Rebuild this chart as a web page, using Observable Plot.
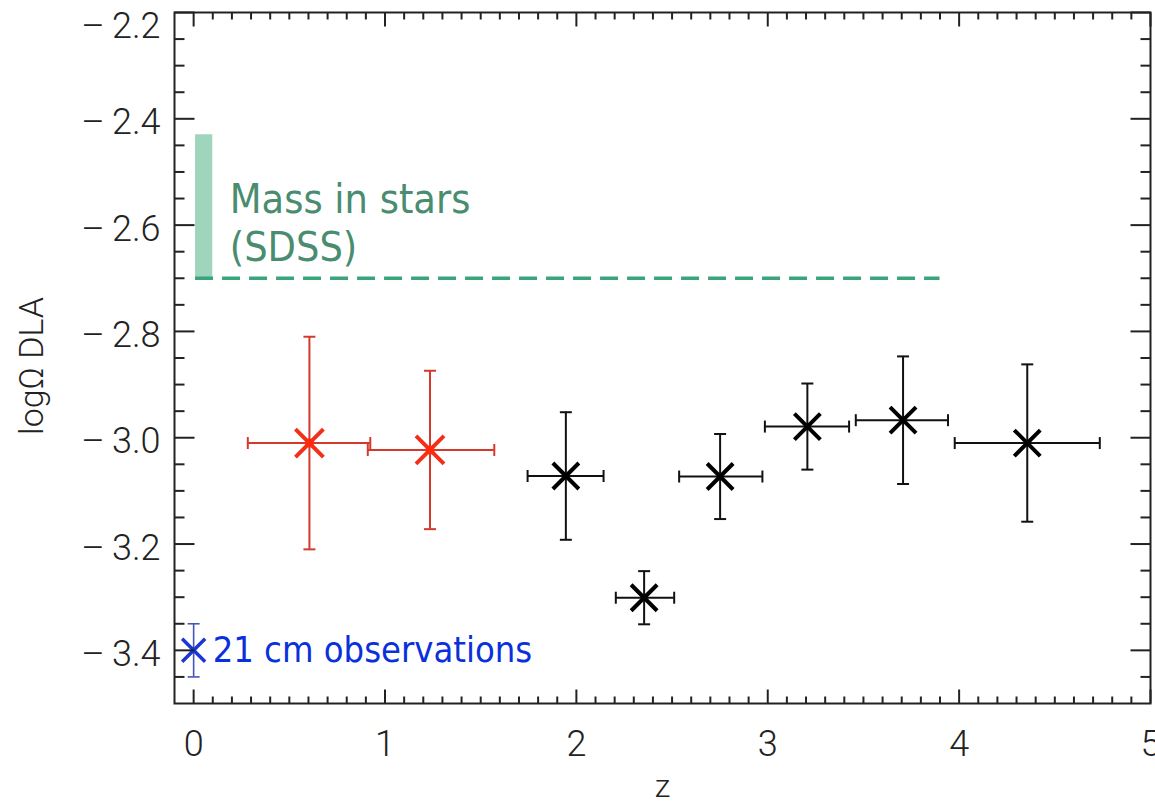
<!DOCTYPE html>
<html><head><meta charset="utf-8">
<script src="https://cdn.jsdelivr.net/npm/d3@7"></script>
<script src="https://cdn.jsdelivr.net/npm/@observablehq/plot@0.6"></script>
<style>body{margin:0;background:#fff}</style>
</head><body><div id="chart"></div>
<script>
// ---- data ----
const redZ = [0.605, 1.235];
const redZLow = [0.283, 0.910];
const redZHigh = [0.923, 1.571];
const redOmega = [-3.010, -3.023];
const redOmegaErr = [0.200, 0.149];

const blackZ = [1.945, 2.354, 2.751, 3.207, 3.707, 4.356];
const blackZLow = [1.745, 2.206, 2.537, 2.985, 3.460, 3.977];
const blackZHigh = [2.142, 2.511, 2.972, 3.425, 3.942, 4.735];
const blackOmega = [-3.072, -3.301, -3.073, -2.979, -2.967, -3.010];
const blackOmegaErr = [0.120, 0.050, 0.080, 0.081, 0.120, 0.148];

const blueZ = [0];
const blueOmega = [-3.40];
const blueOmegaErr = [0.05];
const blueLabel = "21 cm observations";

const starsZ = [0.01, 0.10];
const starsOmegaLow = -2.70, starsOmegaHigh = -2.43;
const starsLineZEnd = 3.90;
const starsLabel = ["Mass in stars", "(SDSS)"];

const xMajorTicks = [0, 1, 2, 3, 4, 5];
const yMajorTicks = [-2.2, -2.4, -2.6, -2.8, -3.0, -3.2, -3.4];
const xLabel = "z";
const yLabel = "logΩ DLA";

// ---- build tables ----
const red = redZ.map((z, i) => ({z, zLow: redZLow[i], zHigh: redZHigh[i], omega: redOmega[i], lo: redOmega[i] - redOmegaErr[i], hi: redOmega[i] + redOmegaErr[i]}));
const black = blackZ.map((z, i) => ({z, zLow: blackZLow[i], zHigh: blackZHigh[i], omega: blackOmega[i], lo: blackOmega[i] - blackOmegaErr[i], hi: blackOmega[i] + blackOmegaErr[i]}));
const blue = blueZ.map((z, i) => ({z, omega: blueOmega[i], lo: blueOmega[i] - blueOmegaErr[i], hi: blueOmega[i] + blueOmegaErr[i]}));
const stars = [{z1: starsZ[0], z2: starsZ[1], lo: starsOmegaLow, hi: starsOmegaHigh, zEnd: starsLineZEnd, label: starsLabel.join("\n")}];

const xMinor = d3.range(1, 50).filter(i => i % 10 !== 0).map(i => i / 10);
const yMinor = d3.range(45, 70).filter(i => i % 4 !== 0).map(i => -i / 20);
const yFmt = d => "\u2013\u2009" + Math.abs(d).toFixed(1);

// ---- symbols ----
const seg = (x1, y1, x2, y2) => ({draw(c) { c.moveTo(x1, y1); c.lineTo(x2, y2); }});
const cross = h => ({draw(c) { c.moveTo(-h, -h); c.lineTo(h, h); c.moveTo(-h, h); c.lineTo(h, -h); }});
const hcap = seg(-6, 0, 6, 0), vcap = seg(0, -6, 0, 6);

const axisCol = "#222";
function tickDots(values, channel, anchor, sym, sw) {
  return Plot.dot(values, {[channel]: d => d, frameAnchor: anchor, symbol: sym, stroke: axisCol, strokeWidth: sw, fill: "none"});
}

function errorMarks(data, col, sw, withX) {
  const m = [
    Plot.ruleX(data, {x: "z", y1: "lo", y2: "hi", stroke: col, strokeWidth: sw}),
    Plot.dot(data, {x: "z", y: "lo", symbol: hcap, stroke: col, strokeWidth: sw, fill: "none"}),
    Plot.dot(data, {x: "z", y: "hi", symbol: hcap, stroke: col, strokeWidth: sw, fill: "none"})
  ];
  if (withX) m.push(
    Plot.ruleY(data, {y: "omega", x1: "zLow", x2: "zHigh", stroke: col, strokeWidth: sw}),
    Plot.dot(data, {x: "zLow", y: "omega", symbol: vcap, stroke: col, strokeWidth: sw, fill: "none"}),
    Plot.dot(data, {x: "zHigh", y: "omega", symbol: vcap, stroke: col, strokeWidth: sw, fill: "none"})
  );
  return m;
}

const chart = Plot.plot({
  width: 1155, height: 805,
  marginTop: 12, marginRight: 5, marginBottom: 102, marginLeft: 174,
  style: {fontFamily: "Roboto, 'Liberation Sans', sans-serif", fontSize: "36px", fontWeight: 300, color: "#222", background: "#fff", overflow: "visible"},
  x: {domain: [-0.1, 5], ticks: xMajorTicks, tickSize: 0, tickPadding: 27, tickFormat: d => String(d), label: null},
  y: {domain: [-3.5, -2.2], axis: null},
  marks: [
    // stars band and dashed level
    Plot.rect(stars, {x1: "z1", x2: "z2", y1: "lo", y2: "hi", fill: "#9fd5bc"}),
    Plot.ruleY(stars, {y: "lo", x1: "z1", x2: "zEnd", stroke: "#3aa57a", strokeWidth: 3.5, strokeDasharray: "18,9"}),
    Plot.text(stars, {x: "z2", y: "lo", text: "label", textAnchor: "start", lineAnchor: "bottom", dx: 17, dy: -17, lineHeight: 1.17, fontSize: 41, fontWeight: 400, fill: "#4a8c70", fontFamily: "'DejaVu Sans Condensed', 'DejaVu Sans', sans-serif"}),
    // error bars
    ...errorMarks(red, "#d43a2c", 2, true),
    ...errorMarks(black, "#111", 2, true),
    ...errorMarks(blue, "#4455b8", 1.6, false),
    // markers
    Plot.dot(red, {x: "z", y: "omega", symbol: cross(14), stroke: "#f2301a", strokeWidth: 4, fill: "none"}),
    Plot.dot(red, {x: "z", y: "omega", r: 4.5, fill: "#ff2a0c", stroke: "none"}),
    Plot.dot(black, {x: "z", y: "omega", symbol: cross(13), stroke: "#000", strokeWidth: 4, fill: "none"}),
    Plot.dot(blue, {x: "z", y: "omega", symbol: cross(11.5), stroke: "#1a36d4", strokeWidth: 3.5, fill: "none"}),
    Plot.text(blue, {x: "z", y: "omega", text: () => blueLabel, textAnchor: "start", dx: 19, dy: 0, fontSize: 36, fontWeight: 400, fill: "#0a30dc", fontFamily: "'DejaVu Sans Condensed', 'DejaVu Sans', sans-serif"}),
    // inward ticks on all four sides
    tickDots(yMajorTicks, "y", "left", seg(0, 0, 20, 0), 2),
    tickDots(yMinor, "y", "left", seg(0, 0, 10, 0), 2),
    tickDots(yMajorTicks, "y", "right", seg(0, 0, -20, 0), 2),
    tickDots(yMinor, "y", "right", seg(0, 0, -10, 0), 2),
    tickDots(xMajorTicks, "x", "bottom", seg(0, 0, 0, -14), 2),
    tickDots(xMinor, "x", "bottom", seg(0, 0, 0, -7), 2),
    tickDots(xMajorTicks, "x", "top", seg(0, 0, 0, 14), 2),
    tickDots(xMinor, "x", "top", seg(0, 0, 0, 7), 2),
    Plot.frame({stroke: axisCol, strokeWidth: 2}),
    // y tick labels (top one nudged down to stay inside the page, as in the reference)
    Plot.text(yMajorTicks.slice(1), {y: d => d, text: yFmt, frameAnchor: "left", textAnchor: "end", dx: -14, dy: 4, fill: "#222"}),
    Plot.text(yMajorTicks.slice(0, 1), {y: d => d, text: yFmt, frameAnchor: "left", textAnchor: "end", dx: -14, dy: 14, fill: "#222"}),
    // axis titles
    Plot.text([xLabel], {text: d => d, frameAnchor: "bottom", lineAnchor: "bottom", dy: 93, fontSize: 32, fill: "#222"}),
    Plot.text([yLabel], {text: d => d, frameAnchor: "left", rotate: -90, lineAnchor: "bottom", textAnchor: "middle", dx: -132, dy: 8, fontSize: 34, fill: "#222"})
  ]
});
document.getElementById("chart").appendChild(chart);
</script>
</body></html>
